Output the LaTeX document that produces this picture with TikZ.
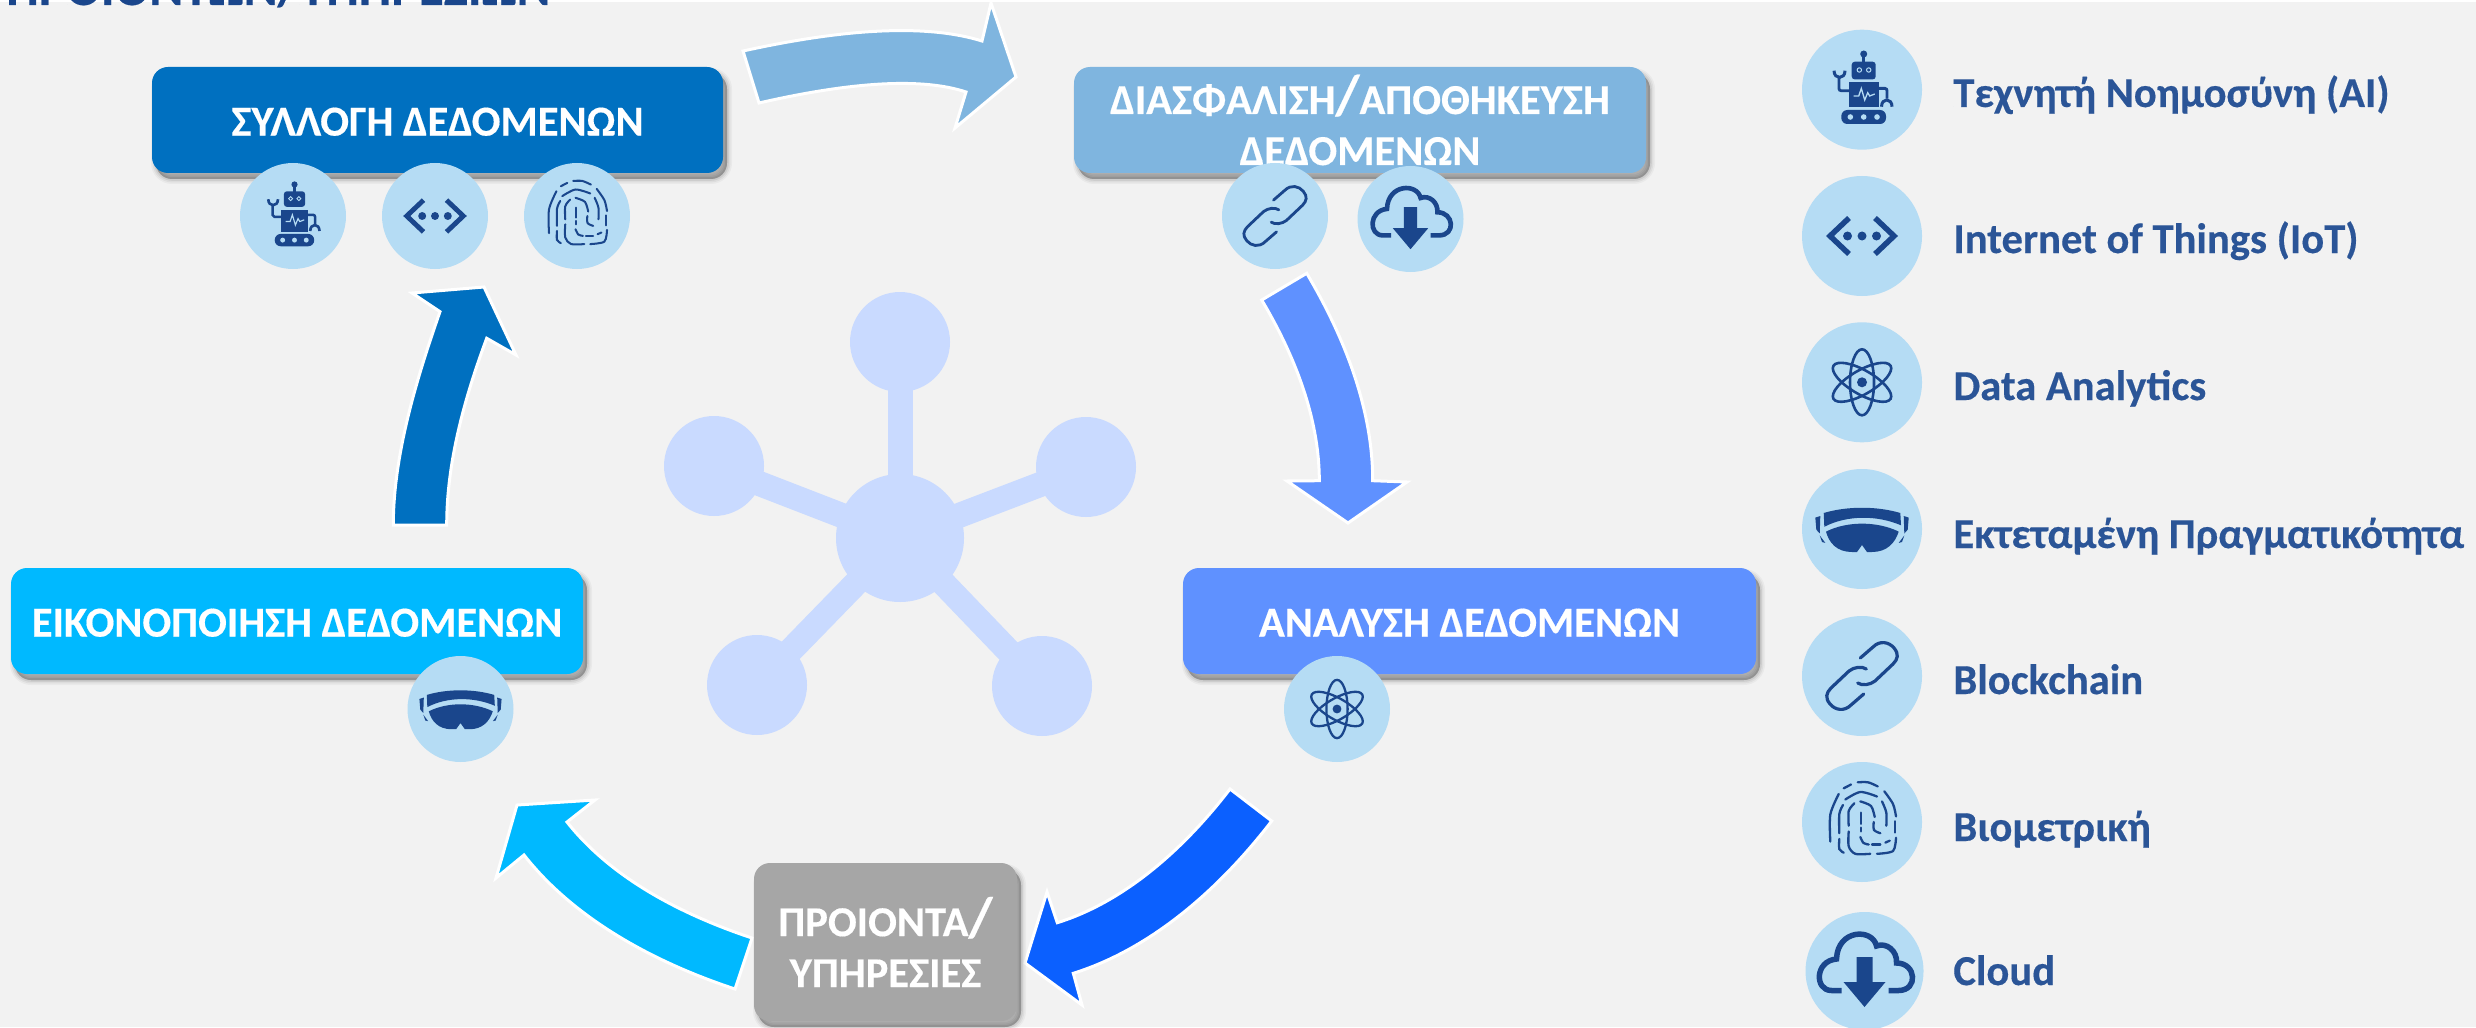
\documentclass[tikz,border=0pt]{standalone}
\usepackage{fontspec}
\setmainfont{Carlito}[BoldFeatures={FakeBold=0.35}]
\definecolor{bgc}{HTML}{F2F2F2}
\definecolor{cA}{HTML}{0070C0}
\definecolor{cB}{HTML}{7FB5DF}
\definecolor{cC}{HTML}{5F91FF}
\definecolor{cD}{HTML}{0B60FF}
\definecolor{cE}{HTML}{00B9FF}
\definecolor{cF}{HTML}{A6A6A6}
\definecolor{netc}{HTML}{C9DAFF}
\definecolor{disc}{HTML}{B5DCF4}
\definecolor{ink}{HTML}{1A468C}
\definecolor{legc}{HTML}{2B5597}
\def\iconscale{1}
\tikzset{
  x=0.5pt,y=-0.5pt,
  softbox/.style={draw=none,fill=#1,rounded corners=8pt,inner sep=0pt,outer sep=0pt,
    font=\bfseries\fontsize{21.3pt}{25.5pt}\selectfont,text=white,align=center,
    preaction={fill=black,fill opacity=.05,draw=black,draw opacity=.035,line width=5pt,transform canvas={shift={(2pt,-3pt)}}},
    preaction={fill=black,fill opacity=.06,draw=black,draw opacity=.05,line width=3.4pt,transform canvas={shift={(2pt,-3pt)}}},
    preaction={fill=black,fill opacity=.08,draw=black,draw opacity=.07,line width=1.8pt,transform canvas={shift={(2pt,-3pt)}}},
    preaction={fill=black,fill opacity=.12,transform canvas={shift={(2pt,-3pt)}}}},
  oneline/.style={text height=15.7pt},
  flowarrow/.style={fill=#1,draw=white,line width=1.5pt},
  netnode/.style={circle,fill=netc,inner sep=0pt,minimum size=50pt},
  netbar/.style={draw=netc,line width=12.5pt},
  disc big/.style={circle,fill=disc,inner sep=0pt,minimum size=60pt},
  disc small/.style={circle,fill=disc,inner sep=0pt,minimum size=53pt},
  legend/.style={anchor=base west,inner sep=0pt,text=legc,font=\bfseries\fontsize{21.3pt}{25pt}\selectfont},
  icon scale/.code={\def\iconscale{#1}\tikzset{scale=#1}},
  ilw/.style={line width=\iconscale*#1*0.5pt},
  pics/robot/.style={code={
    \fill[ink] (1.7,-35.7) circle (3.5);
    \draw[ink,ilw=2.5] (1.7,-35) -- (1.7,-26);
    \fill[ink,rounded corners=1.5pt] (-10.3,-28) rectangle (13.7,-10.3);
    \draw[disc,ilw=1] (-2.7,-19.7) circle (2.2) (6.7,-19.7) circle (2.2);
    \fill[ink] (-13.3,-7.3) rectangle (16.7,17.7);
    \draw[disc,ilw=1.3] (-8.3,6.3) -- (-3.3,6.3) -- (-.7,-1.3) -- (2.7,10.3) -- (5.7,3) -- (7.7,6.3) -- (12.7,4.3);
    \draw[ink,ilw=2.8] (-13,1) -- (-21,1) to[out=180,in=-90] (-23,-1) -- (-23,-13);
    \draw[ink,ilw=3] (-28,-19) .. controls (-28,-10) and (-17,-10) .. (-17,-19);
    \draw[ink,ilw=2.8] (16,-1.3) -- (23,-1.3) to[out=0,in=90] (25,1) -- (25,9);
    \draw[ink,ilw=3] (19.5,17) .. controls (19.5,8) and (30,8) .. (30,17);
    \fill[ink,rounded corners=3pt] (-20.7,20.3) rectangle (24,34.3);
    \fill[disc] (-11.7,27.3) circle (2.8) (1.7,27.3) circle (2.8) (15,27.3) circle (2.8);
  }},
  pics/iot/.style={code={
    \draw[ink,ilw=5.5] (-13,-18) -- (-32,0) -- (-13,18);
    \draw[ink,ilw=5.5] (13,-18) -- (32,0) -- (13,18);
    \fill[ink] (-14.5,0) circle (4.5) (0,0) circle (4.5) (14.5,0) circle (4.5);
  }},
  pics/atom/.style={code={
    \fill[ink] (0,0) circle (5);
    \draw[ink,ilw=2.6] (0,0) ellipse (12 and 33);
    \draw[ink,ilw=2.6,rotate=60] (0,0) ellipse (12 and 33);
    \draw[ink,ilw=2.6,rotate=-60] (0,0) ellipse (12 and 33);
  }},
  pics/visor/.style={code={
    \fill[ink] (-38.3,-16) .. controls (-15,-23) and (15,-23) .. (38.3,-16) -- (39,-3.7) .. controls (15,-14) and (-15,-14) .. (-37.7,-2.2) -- cycle;
    \fill[ink] (-36,2.6) .. controls (-15,-8) and (15,-8) .. (36.7,2.6) .. controls (33,14) and (25,23) .. (10,23) -- (5,23) -- (0,16) -- (-5,23) -- (-10,23) .. controls (-25,23) and (-33,14) .. (-36,2.6) -- cycle;
    \fill[ink] (-46.7,-11.4) -- (-41.7,-13) -- (-42.3,4.5) -- (-45.7,0.7) -- cycle;
    \fill[ink] (46.7,-11.4) -- (41.7,-13) -- (42.3,4.5) -- (45.7,0.7) -- cycle;
    \fill[ink] (-42.3,6.4) -- (-36.7,13.9) -- (-40,13) -- cycle;
    \fill[ink] (42.3,6.4) -- (36.7,13.9) -- (40,13) -- cycle;
  }},
  pics/link/.style={code={
    \draw[ink,ilw=3.2,line cap=round] (-1.7,-18) -- (11,-29) .. controls (18,-36) and (27,-34) .. (32,-28) .. controls (37,-22) and (36,-17) .. (31,-12) -- (13,5) .. controls (8,9) and (0,10) .. (-4.3,7);
    \draw[ink,ilw=3.2,line cap=round] (1.7,18) -- (-11,29) .. controls (-18,36) and (-27,34) .. (-32,28) .. controls (-37,22) and (-36,17) .. (-31,12) -- (-13,-5) .. controls (-8,-9) and (0,-10) .. (4.3,-7);
  }},
  pics/finger/.style={code={
    \begin{scope}[ink,ilw=2.3,line cap=round]
    \draw plot[smooth] coordinates {(-31.7,19.5) (-31.7,-7.5) (-23.3,-28)};
    \draw (-18.3,-33.7) -- (-11,-37.5);
    \draw plot[smooth] coordinates {(-4.3,-39.7) (6,-39.7) (15.7,-35.6)};
    \draw plot[smooth] coordinates {(22.3,-30.7) (31,-18) (34,-5.6)};
    \draw (33.3,-.7) -- (33.3,10.5);
    \draw plot[smooth] coordinates {(34,15.7) (31,29) (15,31.8)};
    \draw plot[smooth] coordinates {(-22.7,11.2) (-22.7,-8) (-19,-17)};
    \draw plot[smooth] coordinates {(-16.7,-22.5) (-1.7,-30) (15,-25.5)};
    \draw plot[smooth] coordinates {(20,-20.6) (24.3,-9.4) (24.3,3.7)};
    \draw plot[smooth] coordinates {(-22.7,16.9) (-22.7,27) (-18.3,30.7)};
    \draw plot[smooth] coordinates {(-13.3,9.4) (-13.3,24.3) (-6.7,31.8) (8.3,31.8)};
    \draw plot[smooth] coordinates {(-13.3,3.7) (-13.3,-11) (-7.7,-18.7)};
    \draw plot[smooth] coordinates {(-1.7,-20.6) (9,-16) (12.7,-5)};
    \draw plot[smooth] coordinates {(11.7,0) (12,8) (18.3,11.2)};
    \draw (-1,-9.4) -- (-1,1.9);
    \draw (-1,5.6) -- (-1,9.4);
    \draw plot[smooth] coordinates {(-1.7,15) (1.5,21) (6.7,22.5)};
    \draw (10,22.5) -- (18.3,22.5);
    \draw (23.3,20.6) -- (27.7,18.7);
    \end{scope}
  }},
  pics/cloud/.style={code={
    \draw[ink,ilw=5.5] (-23,19.5) -- (-33,19.5) .. controls (-50,19.5) and (-50,-10) .. (-28,-12) .. controls (-27,-42) and (8,-43) .. (12,-25) .. controls (22,-29) and (33,-20) .. (32,-8) .. controls (52,-8) and (54,19.5) .. (34,19.5) -- (24,19.5);
    \fill[ink] (-8,-14) -- (8,-14) -- (8,11) -- (21,11) -- (0,36) -- (-21,11) -- (-8,11) -- cycle;
  }},
}
\begin{document}
\begin{tikzpicture}
\useasboundingbox (0,0) rectangle (2476,1027);
\clip (0,0) rectangle (2476,1027);
\fill[white] (0,0) rectangle (2476,1027);
\fill[bgc] (0,2) rectangle (2476,1027);

% clipped title
\node[anchor=base west,inner sep=0pt,text=ink,font=\bfseries\fontsize{25.7pt}{30pt}\selectfont] (title) at (6,5) {ΠΡΟΙΟΝΤΩΝ/ΥΠΗΡΕΣΙΩΝ};

% central network
\node[netnode,minimum size=64pt] (hub) at (900,538) {};
\node[netnode] (n1) at (900,342) {};
\node[netnode] (n2) at (714,466) {};
\node[netnode] (n3) at (1086,467) {};
\node[netnode] (n4) at (757,685) {};
\node[netnode] (n5) at (1042,686) {};
\draw[netbar] (hub.center) -- (n1.center);
\draw[netbar] (hub.center) -- (n2.center);
\draw[netbar] (hub.center) -- (n3.center);
\draw[netbar] (hub.center) -- (n4.center);
\draw[netbar] (hub.center) -- (n5.center);

% block arrows
\draw[flowarrow=cB] (743,51) .. controls (848.7,27.7) and (928.3,24.3) .. (982,41) -- (991,3) -- (1016,77) -- (955,128) -- (966,92) .. controls (923,77.7) and (854,81.3) .. (759,103) -- cycle;
\draw[flowarrow=cC] (1306.7,273.3) .. controls (1343.7,335.7) and (1372.7,408) .. (1372.7,480.7) -- (1407,482) -- (1348,523) -- (1287,481) -- (1319.3,480.7) .. controls (1319.3,417.3) and (1294,354.3) .. (1261.7,300) -- cycle;
\draw[flowarrow=cD] (1230,789) .. controls (1186,846.3) and (1126.7,901) .. (1057.3,922.7) -- (1047,892) -- (1025,963) -- (1082,1005) -- (1073.3,973.3) .. controls (1153,948.3) and (1221,887) .. (1271.7,821) -- cycle;
\draw[flowarrow=cE] (752,938) .. controls (683,915) and (612,879) .. (567,822) -- (595,800) -- (517,805) -- (496,878) -- (524,855) .. controls (575,920) and (656,963) .. (735,989) -- cycle;
\draw[flowarrow=cA] (393.3,525) .. controls (393.3,455) and (416.7,378.3) .. (440,311.7) -- (412,293) -- (484,287) -- (516,355) -- (486.7,338.3) .. controls (464.7,397.7) and (446.7,461.7) .. (446.7,525) -- cycle;

% stage boxes
\node[softbox=cA,oneline,minimum width=285.5pt,minimum height=53pt] (collect) at (437.5,120) {ΣΥΛΛΟΓΗ ΔΕΔΟΜΕΝΩΝ};
\node[softbox=cB,minimum width=286pt,minimum height=53pt] (store) at (1360,120) {ΔΙΑΣΦΑΛΙΣΗ{\fontsize{28pt}{25.5pt}\selectfont/}ΑΠΟΘΗΚΕΥΣΗ\\ΔΕΔΟΜΕΝΩΝ};
\node[softbox=cC,oneline,minimum width=286.5pt,minimum height=53pt] (analyse) at (1469.5,621) {ΑΝΑΛΥΣΗ ΔΕΔΟΜΕΝΩΝ};
\node[softbox=cE,oneline,minimum width=286pt,minimum height=53pt] (visual) at (297,621) {ΕΙΚΟΝΟΠΟΙΗΣΗ ΔΕΔΟΜΕΝΩΝ};
\node[softbox=cF,minimum width=131.5pt,minimum height=79pt] (product) at (885.5,942) {ΠΡΟΙΟΝΤΑ{\fontsize{28pt}{25.5pt}\selectfont/}\\ΥΠΗΡΕΣΙΕΣ};

% discs on the boxes
\node[disc small] (d1) at (293,216) {};
\node[disc small] (d2) at (435,216) {};
\node[disc small] (d3) at (577,216) {};
\node[disc small] (d4) at (1275,216) {};
\node[disc small] (d5) at (1410.5,219) {};
\node[disc small] (d6) at (1337,709) {};
\node[disc small] (d7) at (460.5,709) {};
\pic[icon scale=.883] at (d1) {robot};
\pic[icon scale=.883] at (d2) {iot};
\pic[icon scale=.883] at (d3) {finger};
\pic[icon scale=.883] at (d4) {link};
\pic[icon scale=.84] at (d5) {cloud};
\pic[icon scale=.883] at (d6) {atom};
\pic[icon scale=.88] at (d7) {visor};

% legend
\node[disc big] (l1) at (1862,89.7) {};
\node[disc big] (l2) at (1862,236) {};
\node[disc big] (l3) at (1862,382.3) {};
\node[disc big] (l4) at (1862,529) {};
\node[disc big] (l5) at (1862,676) {};
\node[disc big] (l6) at (1862,822) {};
\node[disc big,minimum size=59pt] (l7) at (1864.5,971) {};
\pic at (l1) {robot};
\pic at (l2) {iot};
\pic at (l3) {atom};
\pic at (l4) {visor};
\pic at (l5) {link};
\pic at (l6) {finger};
\pic at (l7) {cloud};
\node[legend] (t1) at (1953,107) {Τεχνητή Νοημοσύνη (AI)};
\node[legend] (t2) at (1953,253) {Internet of Things (IoT)};
\node[legend] (t3) at (1953,400) {Data Analytics};
\node[legend] (t4) at (1953,548) {Εκτεταμένη Πραγματικότητα};
\node[legend] (t5) at (1953,694) {Blockchain};
\node[legend] (t6) at (1953,841) {Βιομετρική};
\node[legend] (t7) at (1953,985) {Cloud};
\end{tikzpicture}
\end{document}
